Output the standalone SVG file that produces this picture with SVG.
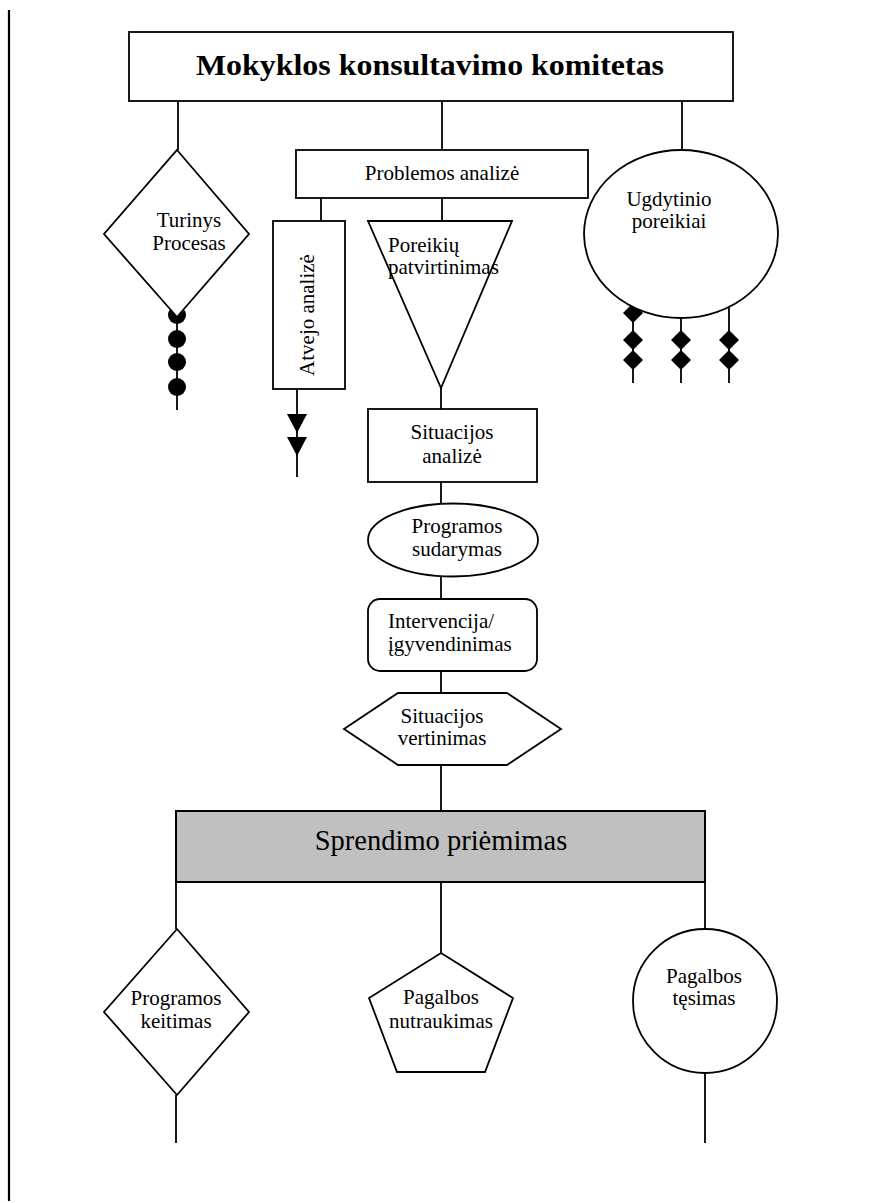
<svg xmlns="http://www.w3.org/2000/svg" width="883" height="1203" viewBox="0 0 883 1203">
<style>
  .shape { fill: #ffffff; stroke: #000000; stroke-width: 1.8; }
  .line { stroke: #000000; stroke-width: 1.8; fill: none; }
  .dot { fill: #000000; stroke: none; }
  text { font-family: "Liberation Serif", "Times New Roman", serif; font-size: 21px; fill: #000000; }
  .c { text-anchor: middle; }
  text.title { font-size: 29px; font-weight: bold; }
  text.big { font-size: 28.5px; }
</style>
<rect x="0" y="0" width="883" height="1203" fill="#ffffff"/>
<line x1="9" y1="10" x2="9" y2="1201" stroke="#000" stroke-width="2.2"/>

<g id="connectors">
  <line class="line" x1="178" y1="101" x2="178" y2="150"/>
  <line class="line" x1="442" y1="101" x2="442" y2="150"/>
  <line class="line" x1="682" y1="101" x2="682" y2="150"/>
  <line class="line" x1="321" y1="198" x2="321" y2="221"/>
  <line class="line" x1="442" y1="198" x2="442" y2="221"/>
  <line class="line" x1="441" y1="388" x2="441" y2="409"/>
  <line class="line" x1="441" y1="482" x2="441" y2="503"/>
  <line class="line" x1="441" y1="576" x2="441" y2="599"/>
  <line class="line" x1="441" y1="671" x2="441" y2="693"/>
  <line class="line" x1="441" y1="765" x2="441" y2="811"/>
  <line class="line" x1="176" y1="882" x2="176" y2="929"/>
  <line class="line" x1="441" y1="882" x2="441" y2="953"/>
  <line class="line" x1="705" y1="882" x2="705" y2="929"/>
  <line class="line" x1="176" y1="1095" x2="176" y2="1143"/>
  <line class="line" x1="705" y1="1073" x2="705" y2="1143"/>
  <!-- chain under Turinys -->
  <line class="line" x1="177" y1="316" x2="177" y2="410"/>
  <circle class="dot" cx="177" cy="315" r="9"/>
  <circle class="dot" cx="177" cy="339" r="9"/>
  <circle class="dot" cx="177" cy="362" r="9"/>
  <circle class="dot" cx="177" cy="387" r="9"/>
  <!-- chain under Atvejo -->
  <line class="line" x1="297" y1="389" x2="297" y2="477"/>
  <polygon class="dot" points="287,414 307,414 297,433"/>
  <polygon class="dot" points="287,437 307,437 297,456"/>
  <!-- chains under Ugdytinio -->
  <line class="line" x1="633" y1="313" x2="633" y2="383"/>
  <line class="line" x1="681" y1="318" x2="681" y2="383"/>
  <line class="line" x1="729" y1="292" x2="729" y2="383"/>
  <polygon class="dot" points="633,303 643,313 633,323 623,313"/>
  <polygon class="dot" points="633,330 643,340 633,350 623,340"/>
  <polygon class="dot" points="633,350 643,360 633,370 623,360"/>
  <polygon class="dot" points="681,330 691,340 681,350 671,340"/>
  <polygon class="dot" points="681,350 691,360 681,370 671,360"/>
  <polygon class="dot" points="729,282 739,292 729,302 719,292"/>
  <polygon class="dot" points="729,330 739,340 729,350 719,340"/>
  <polygon class="dot" points="729,350 739,360 729,370 719,360"/>
</g>

<g id="komitetas">
  <rect class="shape" x="129" y="32" width="604" height="69" stroke-width="2"/>
  <text class="c title" x="430" y="75" textLength="468" lengthAdjust="spacingAndGlyphs">Mokyklos konsultavimo komitetas</text>
</g>

<g id="turinys">
  <polygon class="shape" points="177,150 249,234 177,317 104,234"/>
  <text class="c" x="189" y="227">Turinys</text>
  <text class="c" x="189" y="250">Procesas</text>
</g>

<g id="problemos">
  <rect class="shape" x="296" y="150" width="292" height="48" stroke-width="2"/>
  <text class="c" x="442" y="180">Problemos analizė</text>
</g>

<g id="atvejo">
  <rect class="shape" x="273" y="221" width="72" height="168" stroke-width="2"/>
  <text class="c" x="0" y="0" transform="translate(314,315) rotate(-90)">Atvejo analizė</text>
</g>

<g id="poreikiu">
  <polygon class="shape" points="368,221 512,221 441,388"/>
  <text x="388" y="252">Poreikių</text>
  <text x="388" y="274">patvirtinimas</text>
</g>

<g id="ugdytinio">
  <ellipse class="shape" cx="681" cy="234" rx="97" ry="84"/>
  <text class="c" x="669" y="206">Ugdytinio</text>
  <text class="c" x="669" y="228">poreikiai</text>
</g>

<g id="situacijos-analize">
  <rect class="shape" x="368" y="409" width="169" height="73" stroke-width="2"/>
  <text class="c" x="452" y="439">Situacijos</text>
  <text class="c" x="452" y="463">analizė</text>
</g>

<g id="programos-sudarymas">
  <ellipse class="shape" cx="453" cy="540" rx="85" ry="36.5"/>
  <text class="c" x="457" y="533">Programos</text>
  <text class="c" x="457" y="556">sudarymas</text>
</g>

<g id="intervencija">
  <rect class="shape" x="368" y="599" width="169" height="72" rx="12" ry="12" stroke-width="2"/>
  <text x="388" y="628">Intervencija/</text>
  <text x="388" y="651">įgyvendinimas</text>
</g>

<g id="situacijos-vertinimas">
  <polygon class="shape" points="398,693 507,693 561,729 507,765 398,765 344,729"/>
  <text class="c" x="442" y="723">Situacijos</text>
  <text class="c" x="442" y="745">vertinimas</text>
</g>

<g id="sprendimo">
  <rect x="176" y="811" width="529" height="71" fill="#c0c0c0" stroke="#000" stroke-width="2"/>
  <text class="c big" x="441" y="850">Sprendimo priėmimas</text>
</g>

<g id="programos-keitimas">
  <polygon class="shape" points="177,929 249,1012 177,1095 104,1012"/>
  <text class="c" x="176" y="1005">Programos</text>
  <text class="c" x="176" y="1028">keitimas</text>
</g>

<g id="pagalbos-nutraukimas">
  <polygon class="shape" points="441,953 513,998 485,1072 397,1072 369,998"/>
  <text class="c" x="441" y="1004">Pagalbos</text>
  <text class="c" x="441" y="1028">nutraukimas</text>
</g>

<g id="pagalbos-tesimas">
  <circle class="shape" cx="705" cy="1001" r="72"/>
  <text class="c" x="704" y="983">Pagalbos</text>
  <text class="c" x="704" y="1005">tęsimas</text>
</g>
</svg>
